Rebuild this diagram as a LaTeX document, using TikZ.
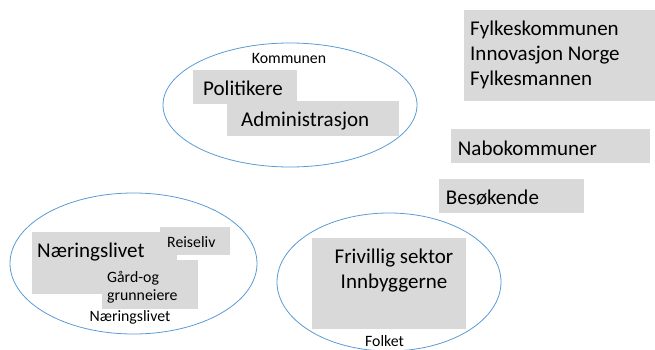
\documentclass[tikz,border=0pt]{standalone}
\usepackage{fontspec}
\setmainfont{Carlito}
\definecolor{ringblue}{HTML}{5B9BD5}
\definecolor{boxgray}{HTML}{D9D9D9}

\begin{document}
\begin{tikzpicture}[x=1pt,y=-1pt,
    ring/.style={draw=ringblue,line width=0.8pt},
    greybox/.style={fill=boxgray},
    big/.style={inner sep=0pt,anchor=base west,font=\fontsize{21}{25}\selectfont},
    mid/.style={inner sep=0pt,anchor=base west,font=\fontsize{15.8}{19}\selectfont},
    tag/.style={inner sep=0pt,anchor=base,font=\fontsize{15.8}{19}\selectfont}]
\useasboundingbox (0,0) rectangle (655,350);

% rings
\draw[ring] (290,105) ellipse [x radius=127pt,y radius=62pt];
\draw[ring] (133.5,263.5) ellipse [x radius=123.5pt,y radius=70.5pt];
\draw[ring] (389,282) ellipse [x radius=112pt,y radius=69pt];

% grey boxes
\fill[greybox] (193,70) rectangle (297,104);
\fill[greybox] (227,101) rectangle (399,136);
\fill[greybox] (32,232) rectangle (177,294);
\fill[greybox] (160,227) rectangle (230,255);
\fill[greybox] (102,260) rectangle (198,309);
\fill[greybox] (312,238) rectangle (466,329);
\fill[greybox] (464,10) rectangle (655,101);
\fill[greybox] (451,129) rectangle (650,163);
\fill[greybox] (439,179) rectangle (584,213);

% Kommunen
\node[tag] (kommunen) at (289,63.3) {Kommunen};
\node[big] (politikere) at (203,95.7) {Politikere};
\node[big] (admin) at (241,126) {Administrasjon};

% Naeringslivet
\node[big] (naering) at (37,257.7) {Næringslivet};
\node[mid] (reiseliv) at (167,247.3) {Reiseliv};
\node[mid] (gard) at (107,282.3) {Gård-og};
\node[mid] (grunn) at (107,300.5) {grunneiere};
\node[tag] (naeringtag) at (130,321.7) {Næringslivet};

% Folket
\node[big,anchor=base] (frivillig) at (394,263.3) {Frivillig sektor};
\node[big,anchor=base] (innbygg) at (394,288.3) {Innbyggerne};
\node[tag] (folket) at (384.5,346.7) {Folket};

% outside
\node[big] (fylkekom) at (470,35.7) {Fylkeskommunen};
\node[big] (innovasjon) at (470,61) {Innovasjon Norge};
\node[big] (fylkesmann) at (470,86) {Fylkesmannen};
\node[big] (nabo) at (457.7,155.7) {Nabokommuner};
\node[big] (besok) at (445.7,204) {Besøkende};
\end{tikzpicture}
\end{document}
